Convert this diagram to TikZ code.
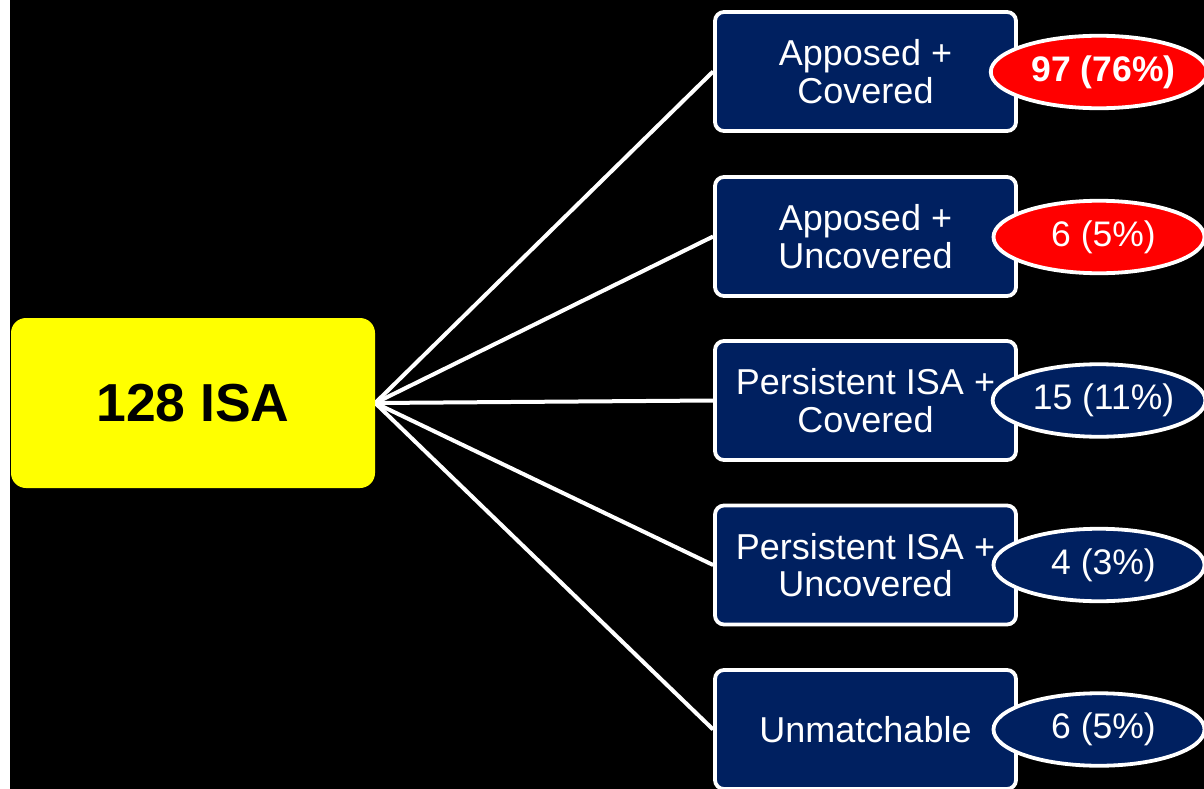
\documentclass[tikz,border=0pt]{standalone}
\usepackage{fontspec}
\setmainfont{Liberation Sans}
\usetikzlibrary{shapes.geometric,backgrounds}
\definecolor{navy}{HTML}{002060}
\definecolor{isayellow}{HTML}{FFFF00}
\definecolor{isared}{HTML}{FF0000}
\begin{document}
\begin{tikzpicture}[x=1pt,y=-1pt,
  boxstyle/.style={draw=white, line width=3.8pt, fill=navy, rounded corners=9pt,
    minimum width=301pt, minimum height=119pt, text=white,
    font=\fontsize{36}{37.5}\selectfont, align=center, inner sep=0pt},
  ovalstyle/.style={ellipse, draw=white, line width=3.8pt, minimum width=211pt,
    minimum height=72.5pt, text=white, font=\fontsize{35.5}{37}\selectfont, inner sep=0pt},
  redoval/.style={ovalstyle, fill=isared},
  blueoval/.style={ovalstyle, fill=navy},
  link/.style={draw=white, line width=4pt}
]
\useasboundingbox (0,0) rectangle (1204,789);

\node[fill=isayellow, rounded corners=15pt, minimum width=364pt, minimum height=170pt,
  inner sep=0pt, font=\fontsize{53.5}{56}\selectfont\bfseries] (root) at (193,403) {128 ISA};

\node[boxstyle] (b1) at (865.5,71.5) {Apposed +\\Covered};
\node[boxstyle] (b2) at (865.5,236.5) {Apposed +\\Uncovered};
\node[boxstyle] (b3) at (865.5,400.5) {Persistent ISA +\\Covered};
\node[boxstyle] (b4) at (865.5,565) {Persistent ISA +\\Uncovered};
\node[boxstyle] (b5) at (865.5,729.5) {Unmatchable};

\node[redoval, font=\fontsize{35.5}{37}\selectfont\bfseries] (o1) at (1099,72) {\hspace{9pt}97 (76\%)};
\node[redoval] (o2) at (1099,237) {\hspace{9pt}6 (5\%)};
\node[blueoval] (o3) at (1099,400.5) {\hspace{9pt}15 (11\%)};
\node[blueoval] (o4) at (1099,565) {\hspace{9pt}4 (3\%)};
\node[blueoval] (o5) at (1099,729.5) {\hspace{9pt}6 (5\%)};

\begin{pgfonlayer}{background}
  \fill[white] (0,0) rectangle (10,789);
  \fill[black] (10,0) rectangle (1204,789);
  \foreach \b in {b1,b2,b3,b4,b5}
    \draw[link] (root.east) -- (\b.west);
\end{pgfonlayer}
\end{tikzpicture}
\end{document}
